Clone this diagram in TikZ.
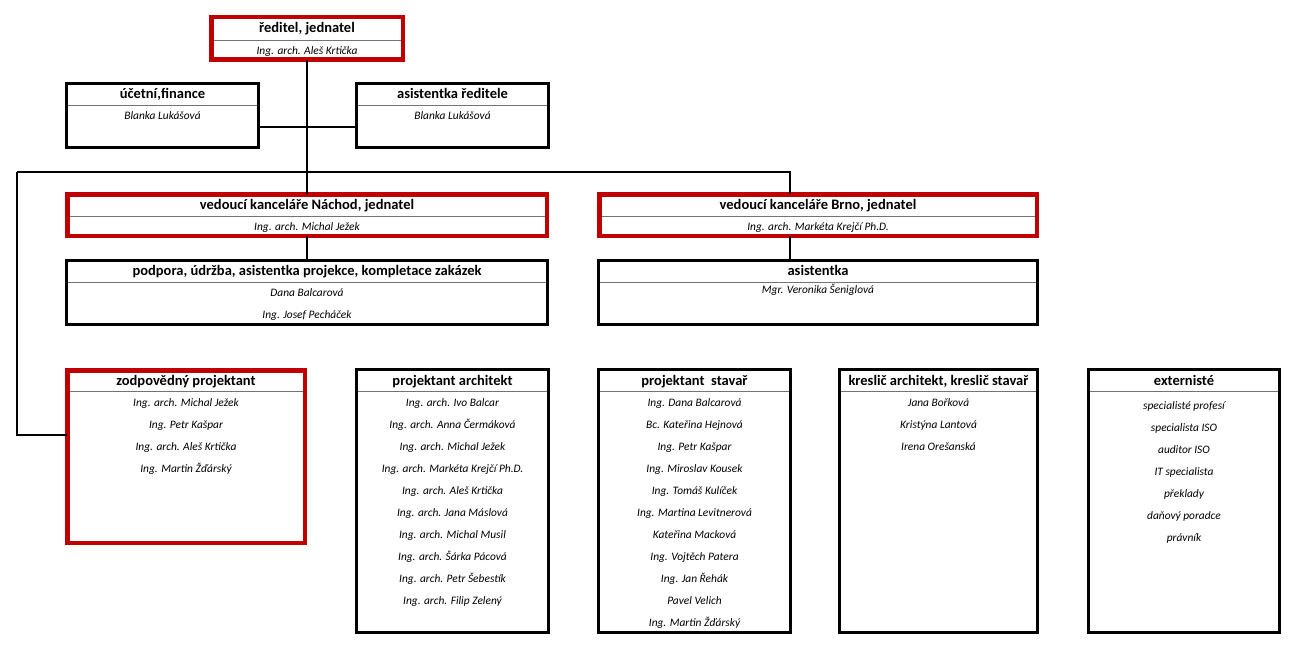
\documentclass[tikz,border=0pt]{standalone}
\usepackage{fontspec}
\setmainfont{Carlito}
\definecolor{boxred}{RGB}{192,0,0}
\tikzset{
  redbox/.style={draw=boxred, line width=4.5pt, inner sep=0pt, outer sep=0pt},
  blackbox/.style={draw=black, line width=3pt, inner sep=0pt, outer sep=0pt},
  ttl/.style={font=\bfseries\fontsize{14.5}{17}\selectfont, inner sep=0pt, anchor=base},
  nm/.style={font=\itshape\fontsize{11.4}{13}\selectfont, inner sep=0pt, anchor=base},
  sepline/.style={draw=black!55, line width=0.8pt},
  conn/.style={draw=black, line width=1.8pt},
}
% #1 name, #2 style, #3 line width, #4 x1, #5 y1, #6 x2, #7 y2, #8 separator y
\newcommand\orgbox[8]{%
  \node[#2, minimum width={#6-#4-#3}, minimum height={#7-#5-#3}] (#1) at ({(#4+#6)/2},{(#5+#7)/2}) {};
  \draw[sepline] ({#4+#3},#8) -- ({#6-#3},#8);
}
\begin{document}
\begin{tikzpicture}[x=1pt,y=-1pt]
\useasboundingbox (0,0) rectangle (1300,655);
\fill[white] (0,0) rectangle (1300,655);

% boxes
\orgbox{dir}{redbox}{4.5}{209}{15}{405}{62}{40}
\orgbox{ucet}{blackbox}{3}{65}{82}{260}{149}{105}
\orgbox{asr}{blackbox}{3}{355}{82}{550}{149}{105}
\orgbox{nach}{redbox}{4.5}{65}{192}{549}{238}{216}
\orgbox{brno}{redbox}{4.5}{597}{192}{1039}{238}{216}
\orgbox{podp}{blackbox}{3}{65}{259}{549}{326}{282}
\orgbox{asis}{blackbox}{3}{597}{259}{1039}{326}{282}
\orgbox{zodp}{redbox}{4.5}{65}{368}{307}{545}{391}
\orgbox{parch}{blackbox}{3}{355}{368}{550}{634}{391}
\orgbox{pstav}{blackbox}{3}{597}{368}{792}{634}{391}
\orgbox{kresl}{blackbox}{3}{838}{368}{1039}{634}{391}
\orgbox{ext}{blackbox}{3}{1087}{368}{1281}{634}{391}

% connectors
\coordinate (busL) at (17,172);
\coordinate (busR) at (790,172);
\coordinate (jy) at (0,127);
\coordinate (zj) at (17,435);
\draw[conn] (dir.south) -- (nach.north);
\draw[conn] (ucet.east |- jy) -- (asr.west |- jy);
\draw[conn] (nach.south) -- (podp.north);
\draw[conn] (busL) -- (busR) -- (brno.north -| busR);
\draw[conn] (brno.south -| busR) -- (asis.north -| busR);
\draw[conn] (busL) -- (zj) -- (zodp.west |- zj);

% titles
\node[ttl] (dir-t) at (307,33) {ředitel, jednatel};
\node[nm] (dir-n) at (307,55) {Ing. arch. Aleš Krtička};
\node[ttl] (ucet-t) at (162.5,99) {účetní,finance};
\node[nm] (ucet-n) at (162.5,120) {Blanka Lukášová};
\node[ttl] (asr-t) at (452.5,99) {asistentka ředitele};
\node[nm] (asr-n) at (452.5,120) {Blanka Lukášová};
\node[ttl] (nach-t) at (307,209) {vedoucí kanceláře Náchod, jednatel};
\node[nm] (nach-n) at (307,230) {Ing. arch. Michal Ježek};
\node[ttl] (brno-t) at (818,209) {vedoucí kanceláře Brno, jednatel};
\node[nm] (brno-n) at (818,230) {Ing. arch. Markéta Krejčí Ph.D.};
\node[ttl] (podp-t) at (307,275) {podpora, údržba, asistentka projekce, kompletace zakázek};
\node[nm] (podp-n1) at (307,296) {Dana Balcarová};
\node[nm] (podp-n2) at (307,318) {Ing. Josef Pecháček};
\node[ttl] (asis-t) at (818,275) {asistentka};
\node[nm] (asis-n) at (818,293) {Mgr. Veronika Šeniglová};

\node[ttl] (zodp-t) at (186,385) {zodpovědný projektant};
\node[ttl] (parch-t) at (452.5,385) {projektant architekt};
\node[ttl] (pstav-t) at (694.5,385) {projektant\ \ stavař};
\node[ttl] (kresl-t) at (938.5,385) {kreslič architekt, kreslič stavař};
\node[ttl] (ext-t) at (1184,385) {externisté};

\foreach \t [count=\i from 0] in {Ing. arch. Michal Ježek, Ing. Petr Kašpar, Ing. arch. Aleš Krtička, Ing. Martin Žďárský}
  \node[nm] (zodp-\i) at (186,{406+22*\i}) {\t};
\foreach \t [count=\i from 0] in {Ing. arch. Ivo Balcar, Ing. arch. Anna Čermáková, Ing. arch. Michal Ježek, Ing. arch. Markéta Krejčí Ph.D., Ing. arch. Aleš Krtička, Ing. arch. Jana Máslová, Ing. arch. Michal Musil, Ing. arch. Šárka Pácová, Ing. arch. Petr Šebestík, Ing. arch. Filip Zelený}
  \node[nm] (parch-\i) at (452.5,{406+22*\i}) {\t};
\foreach \t [count=\i from 0] in {Ing. Dana Balcarová, Bc. Kateřina Hejnová, Ing. Petr Kašpar, Ing. Miroslav Kousek, Ing. Tomáš Kulíček, Ing. Martina Levitnerová, Kateřina Macková, Ing. Vojtěch Patera, Ing. Jan Řehák, Pavel Velich, Ing. Martin Žďárský}
  \node[nm] (pstav-\i) at (694.5,{406+22*\i}) {\t};
\foreach \t [count=\i from 0] in {Jana Bořková, Kristýna Lantová, Irena Orešanská}
  \node[nm] (kresl-\i) at (938.5,{406+22*\i}) {\t};
\foreach \t [count=\i from 0] in {specialisté profesí, specialista ISO, auditor ISO, IT specialista, překlady, daňový poradce, právník}
  \node[nm] (ext-\i) at (1184,{409.5+22*\i}) {\t};
\end{tikzpicture}
\end{document}
